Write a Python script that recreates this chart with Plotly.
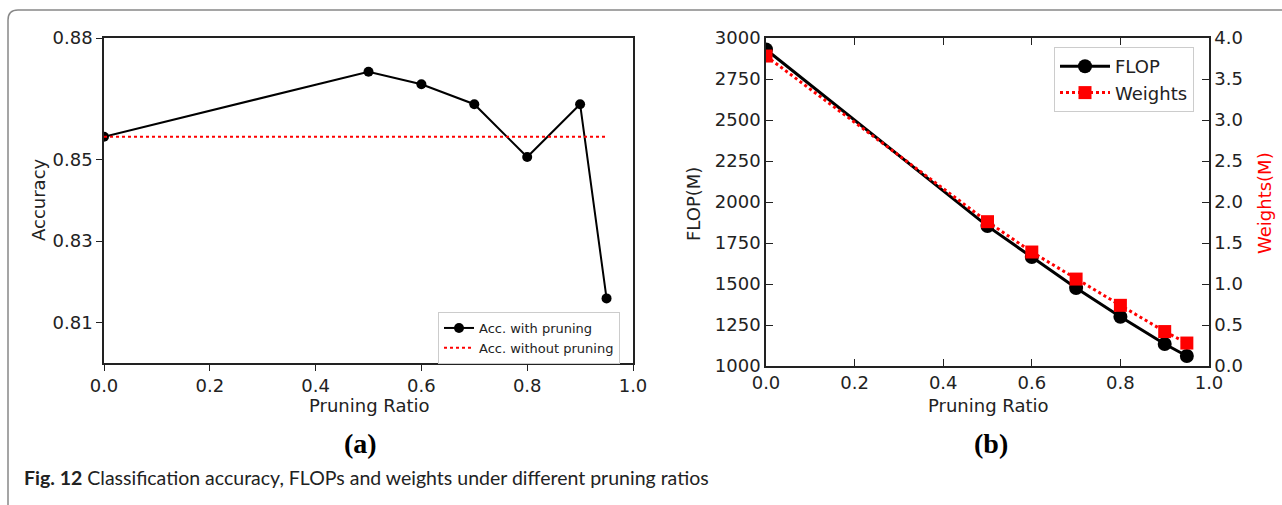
import plotly.graph_objects as go

W, H = 1282, 505

# ---- data ----
ratio = [0.0, 0.5, 0.6, 0.7, 0.8, 0.9, 0.95]
acc_with = [0.8557, 0.8717, 0.8686, 0.8637, 0.8507, 0.8637, 0.8159]
acc_without = [0.8557, 0.8557]
acc_without_x = [0.0, 0.95]
flop = [2930, 1853, 1664, 1475, 1300, 1134, 1061]
weights = [3.78, 1.76, 1.39, 1.06, 0.74, 0.42, 0.28]
acc_ticks = [0.81, 0.83, 0.85, 0.88]
x_ticks = [0.0, 0.2, 0.4, 0.6, 0.8, 1.0]


def px(x):
    return x / W


def py(y):
    return 1 - y / H


TICKFONT = dict(family="DejaVu Sans", size=18, color="#222")
TITLEFONT = dict(family="DejaVu Sans", size=18, color="#222")

fig = go.Figure()

fig.add_trace(go.Scatter(x=ratio, y=acc_with, mode="lines+markers",
                         name="Acc. with pruning",
                         line=dict(color="black", width=2),
                         marker=dict(color="black", size=10, symbol="circle"),
                         xaxis="x", yaxis="y", legend="legend"))
fig.add_trace(go.Scatter(x=acc_without_x, y=acc_without, mode="lines",
                         name="Acc. without pruning",
                         line=dict(color="red", width=2, dash="dot"),
                         xaxis="x", yaxis="y", legend="legend"))

fig.add_trace(go.Scatter(x=ratio, y=flop, mode="lines+markers", name="FLOP",
                         line=dict(color="black", width=3),
                         marker=dict(color="black", size=14, symbol="circle"),
                         xaxis="x2", yaxis="y2", legend="legend2"))
fig.add_trace(go.Scatter(x=ratio, y=weights, mode="lines+markers", name="Weights",
                         line=dict(color="red", width=3, dash="dot"),
                         marker=dict(color="red", size=13, symbol="square"),
                         xaxis="x2", yaxis="y3", legend="legend2"))

axis_common = dict(showgrid=False, zeroline=False, showline=True,
                   linecolor="#222", linewidth=1.5, tickcolor="#222",
                   tickfont=TICKFONT, automargin=False)

fig.update_layout(
    width=W, height=H,
    margin=dict(l=0, r=0, t=0, b=0, autoexpand=False),
    paper_bgcolor="white", plot_bgcolor="white",
    showlegend=True,
    xaxis=dict(domain=[px(104), px(633)], range=[0, 1], anchor="y",
               tickvals=x_ticks, tickformat=".1f", ticks="outside", ticklen=6,
               mirror=True, **axis_common),
    yaxis=dict(domain=[py(363), py(38)], range=[0.80, 0.88], anchor="x",
               tickvals=acc_ticks, ticktext=[f"{v:.2f}" for v in acc_ticks],
               ticks="outside", ticklen=6, mirror=True, **axis_common),
    xaxis2=dict(domain=[px(766), px(1209)], range=[0, 1], anchor="y2",
                tickvals=x_ticks, tickformat=".1f", ticks="inside", ticklen=7,
                mirror="ticks", **axis_common),
    yaxis2=dict(domain=[py(366), py(38)], range=[1000, 3000], anchor="x2",
                dtick=250, ticks="inside", ticklen=7, **axis_common),
    yaxis3=dict(range=[0, 4], overlaying="y2", side="right", anchor="x2",
                dtick=0.5, tickformat=".1f", ticks="inside", ticklen=7,
                **axis_common),
    legend=dict(x=px(438), y=py(312), xanchor="left", yanchor="top",
                bgcolor="white", bordercolor="#ccc", borderwidth=1,
                font=dict(family="DejaVu Sans", size=13, color="#222"),
                tracegroupgap=0, itemwidth=30),
    legend2=dict(x=px(1054), y=py(47), xanchor="left", yanchor="top",
                 bgcolor="white", bordercolor="#ccc", borderwidth=1,
                 font=dict(family="DejaVu Sans", size=18, color="#222"),
                 tracegroupgap=0, itemwidth=50),
)


def note(text, x, y, font, angle=0, xanchor="center"):
    fig.add_annotation(text=text, x=px(x), y=py(y), xref="paper", yref="paper",
                       xanchor=xanchor, yanchor="middle", showarrow=False,
                       textangle=angle, font=font)


note("Pruning Ratio", 369, 405, TITLEFONT)
note("Pruning Ratio", 988, 405, TITLEFONT)
note("Accuracy", 38, 200, TITLEFONT, angle=-90)
note("FLOP(M)", 693, 204, TITLEFONT, angle=-90)
note("Weights(M)", 1264, 203, dict(family="DejaVu Sans", size=18, color="red"), angle=-90)
note("<b>(a)</b>", 360, 443, dict(family="Liberation Serif", size=28, color="black"))
note("<b>(b)</b>", 991, 443, dict(family="Liberation Serif", size=28, color="black"))
note("<b>Fig. 12</b> Classification accuracy, FLOPs and weights under different pruning ratios",
     22, 477, dict(family="Lato", size=19.5, color="#222"), xanchor="left")

# frame
path = (f"M {px(8)},0 L {px(8)},{py(20)} Q {px(8)},{py(10)} {px(18)},{py(10)} L 1,{py(10)}")
fig.add_shape(type="path", path=path, xref="paper", yref="paper",
              line=dict(color="#888", width=1.5))

fig.write_html("out.html", config={"displayModeBar": False},
               post_script="document.body.style.margin='0';document.body.style.overflow='hidden';")
